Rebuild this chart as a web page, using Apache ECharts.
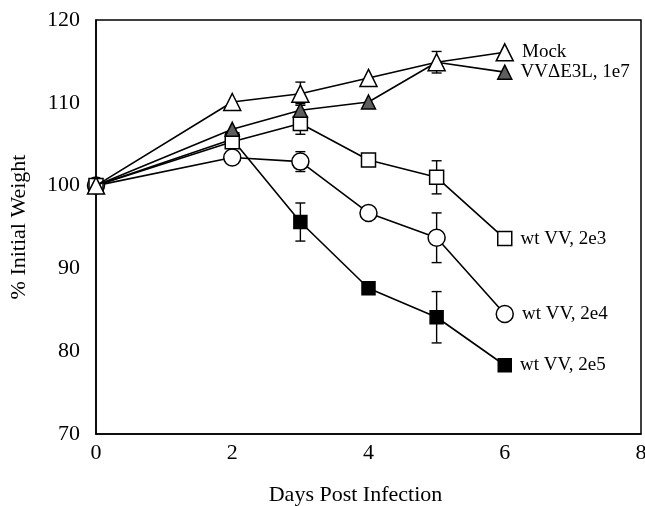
<!DOCTYPE html>
<html>
<head>
<meta charset="utf-8">
<script src="https://cdn.jsdelivr.net/npm/echarts@6/dist/echarts.min.js"></script>
<style>
  html, body { margin: 0; padding: 0; background: #fff; }
  #chart { width: 645px; height: 506px; }
</style>
</head>
<body>
<div id="chart"></div>
<script>
// days post infection
const days = [0, 2, 3, 4, 5, 6]

// % initial weight per group
const mock = [100, 110.1, 111.1, 113.0, 114.9, 116.1]
const e3l = [100, 106.8, 109.1, 110.1, 114.9, 113.7]
const wt2e3 = [100, 105.3, 107.5, 103.1, 101.0, 93.6]
const wt2e4 = [100, 103.4, 102.9, 96.7, 93.7, 84.5]
const wt2e5 = [100, 105.6, 95.6, 87.6, 84.1, 78.3]

const seriesNames = ['Mock', 'VV\u0394E3L, 1e7', 'wt VV, 2e3', 'wt VV, 2e4', 'wt VV, 2e5']

// error bars: [day, mean, sd]
const errMock = [[3, 111.1, 1.4], [5, 114.9, 1.3]]
const errE3l = [[3, 109.1, 0.8]]
const err2e3 = [[3, 107.5, 1.3], [5, 101.0, 2.0]]
const err2e4 = [[3, 102.9, 1.2], [5, 93.7, 3.0]]
const err2e5 = [[3, 95.6, 2.3], [5, 84.1, 3.1]]

const serif = '"Liberation Serif", "DejaVu Serif", serif'

const chart = echarts.init(document.getElementById('chart'))

function pairs(vals) {
  return days.map((d, i) => [d, vals[i]])
}

function lineSeries(name, vals, symbol, size, fill, z) {
  return {
    name: name,
    type: 'line',
    data: pairs(vals),
    symbol: symbol,
    symbolSize: size,
    showAllSymbol: true,
    z: z,
    lineStyle: { color: '#000', width: 1.6 },
    itemStyle: { color: fill, borderColor: '#000', borderWidth: 1.5 },
    label: {
      show: true,
      position: 'right',
      distance: 8,
      fontFamily: serif,
      fontSize: 19,
      color: '#000',
      formatter: (p) => (p.dataIndex === days.length - 1 ? name : '')
    },
    emphasis: { disabled: true },
    animation: false
  }
}

function errSeries(data) {
  return {
    type: 'custom',
    data: data,
    z: 1,
    silent: true,
    animation: false,
    renderItem: (params, api) => {
      const x = api.value(0)
      const m = api.value(1)
      const sd = api.value(2)
      const top = api.coord([x, m + sd])
      const bot = api.coord([x, m - sd])
      const cap = 5
      const style = { stroke: '#000', lineWidth: 1.4 }
      return {
        type: 'group',
        children: [
          { type: 'line', shape: { x1: top[0], y1: top[1], x2: bot[0], y2: bot[1] }, style: style },
          { type: 'line', shape: { x1: top[0] - cap, y1: top[1], x2: top[0] + cap, y2: top[1] }, style: style },
          { type: 'line', shape: { x1: bot[0] - cap, y1: bot[1], x2: bot[0] + cap, y2: bot[1] }, style: style }
        ]
      }
    }
  }
}

const option = {
  backgroundColor: '#fff',
  grid: { left: 96, right: 4, top: 20, bottom: 72, outerBoundsMode: 'none' },
  xAxis: {
    type: 'value',
    min: 0,
    max: 8,
    interval: 2,
    name: 'Days Post Infection',
    nameLocation: 'middle',
    nameGap: 50,
    nameTextStyle: { fontFamily: serif, fontSize: 22, color: '#000', padding: [0, 26, 0, 0] },
    axisLine: { show: true, lineStyle: { color: '#000', width: 1.5 } },
    axisTick: { show: false },
    axisLabel: { fontFamily: serif, fontSize: 22, color: '#000', margin: 8 },
    splitLine: { show: false }
  },
  yAxis: {
    type: 'value',
    min: 70,
    max: 120,
    interval: 10,
    name: '% Initial Weight',
    nameLocation: 'middle',
    nameGap: 66,
    nameTextStyle: { fontFamily: serif, fontSize: 22, color: '#000' },
    axisLine: { show: true, lineStyle: { color: '#000', width: 1.5 } },
    axisTick: { show: false },
    axisLabel: { fontFamily: serif, fontSize: 22, color: '#000', margin: 16 },
    splitLine: { show: false }
  },
  graphic: [],
  series: [
    errSeries(errMock),
    errSeries(errE3l),
    errSeries(err2e3),
    errSeries(err2e4),
    errSeries(err2e5),
    lineSeries(seriesNames[4], wt2e5, 'rect', 13, '#000', 3),
    lineSeries(seriesNames[3], wt2e4, 'circle', 17, '#fff', 4),
    lineSeries(seriesNames[2], wt2e3, 'rect', 14, '#fff', 5),
    lineSeries(seriesNames[1], e3l, 'triangle', 14, '#5e5e5e', 6),
    lineSeries(seriesNames[0], mock, 'triangle', 17, '#fff', 7)
  ]
}

chart.setOption(option)

// frame: top and right edges follow the grid rect
const rect = chart.getModel().getComponent('grid').coordinateSystem.getRect()
chart.setOption({
  graphic: [{
    type: 'rect',
    shape: { x: rect.x, y: rect.y, width: rect.width, height: rect.height },
    style: { fill: 'none', stroke: '#000', lineWidth: 1.5 },
    silent: true,
    z: 0
  }]
})
</script>
</body>
</html>
